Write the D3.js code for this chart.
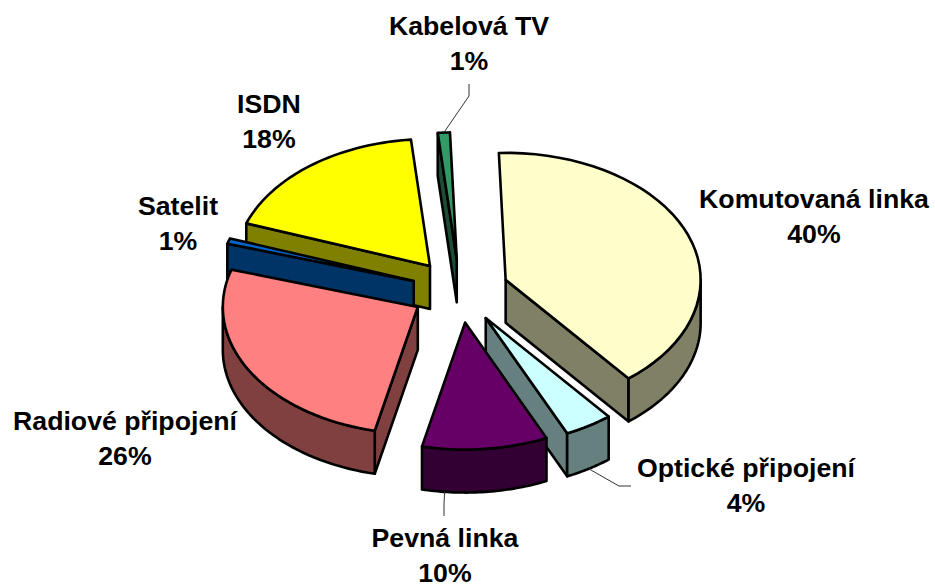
<!DOCTYPE html>
<html><head><meta charset="utf-8">
<script src="https://cdn.jsdelivr.net/npm/d3@7"></script>
<style>html,body{margin:0;padding:0;background:#fff}svg{display:block}
text{font-family:"Liberation Sans",Arial,sans-serif;font-weight:bold;font-size:26.7px;fill:#000;text-anchor:middle}</style>
</head><body><div id="c"></div>
<script>
const categories = ["Komutovaná linka","Optické připojení","Pevná linka","Radiové připojení","Satelit","ISDN","Kabelová TV"];
const values = [39.7,4,10.4,26.2,0.7,18,1];
const topColors = ["#FFFFCC","#CCFFFF","#660066","#FF8080","#0066CC","#FFFF00","#339966"];
const sideColors = ["#808066","#668080","#330033","#804040","#003366","#808000","#1A4D33"];
const labelPos = [[814,208],[746,477],[445,547],[125,430],[178,215],[269,113],[469,35]];
const drawOrder = [5,6,4,0,3,1,2];
const W=935,H=586, cx=460, cy=291, rx=195, ry=127, depth=43, explode=0.25, rotation=-2;

const svg=d3.select("#c").append("svg").attr("width",W).attr("height",H);
const sx=d3.scaleLinear().domain([-1,1]).range([cx-rx,cx+rx]);
const sy=d3.scaleLinear().domain([-1,1]).range([cy+ry,cy-ry]);
const rad=d=>d*Math.PI/180;
const pie=d3.pie().sort(null).startAngle(rad(rotation)).endAngle(rad(rotation+360));
const arcs=pie(values);
const apex=a=>{const m=(a.startAngle+a.endAngle)/2;return [explode*Math.sin(m),explode*Math.cos(m)];};
const pt=(a,t,dz=0)=>{const o=apex(a);return [sx(o[0]+Math.sin(t)),sy(o[1]+Math.cos(t))+dz];};
const ctr=(a,dz=0)=>{const o=apex(a);return [sx(o[0]),sy(o[1])+dz];};
const samples=(t0,t1)=>d3.range(0,41).map(i=>t0+(t1-t0)*i/40);
const line=d3.line();
const closed=p=>line(p)+"Z";
function poly(d,fill){svg.append("path").attr("d",d).attr("fill",fill)
  .attr("stroke","#000").attr("stroke-width",2.6).attr("stroke-linejoin","round");}

drawOrder.forEach(i=>{
  const a=arcs[i], s=a.startAngle, e=a.endAngle, side=sideColors[i];
  if(Math.sin(e)>0) poly(closed([ctr(a),pt(a,e),pt(a,e,depth),ctr(a,depth)]),side);
  if(Math.sin(s)<-0.06) poly(closed([ctr(a),pt(a,s),pt(a,s,depth),ctr(a,depth)]),side);
  const lo=Math.max(s,Math.PI/2), hi=Math.min(e,3*Math.PI/2);
  if(hi>lo){const ss=samples(lo,hi);
    poly(closed(ss.map(t=>pt(a,t)).concat(ss.slice().reverse().map(t=>pt(a,t,depth)))),side);}
  poly(closed([ctr(a)].concat(samples(s,e).map(t=>pt(a,t)))),topColors[i]);
});

// leader lines: slice anchor point, then elbows toward the label
const leaders=[
 {i:1,t:0.5,dz:depth,path:[[619,486],[631,486]]},
 {i:2,t:0.82,dz:depth,path:[[444,504],[444,516]]},
 {i:6,t:0.5,dz:0,path:[[469,96],[469,84]]}
];
leaders.forEach(l=>{const a=arcs[l.i];
  const p=pt(a,a.startAngle+(a.endAngle-a.startAngle)*l.t,l.dz);
  svg.append("path").attr("d",line([p].concat(l.path))).attr("fill","none").attr("stroke","#333").attr("stroke-width",1);
});

categories.forEach((c,i)=>{
  const [x,y]=labelPos[i];
  const t=svg.append("text").attr("x",x).attr("y",y);
  t.append("tspan").attr("x",x).text(c);
  t.append("tspan").attr("x",x).attr("dy",34.5).text(Math.round(values[i])+"%");
});
</script></body></html>
